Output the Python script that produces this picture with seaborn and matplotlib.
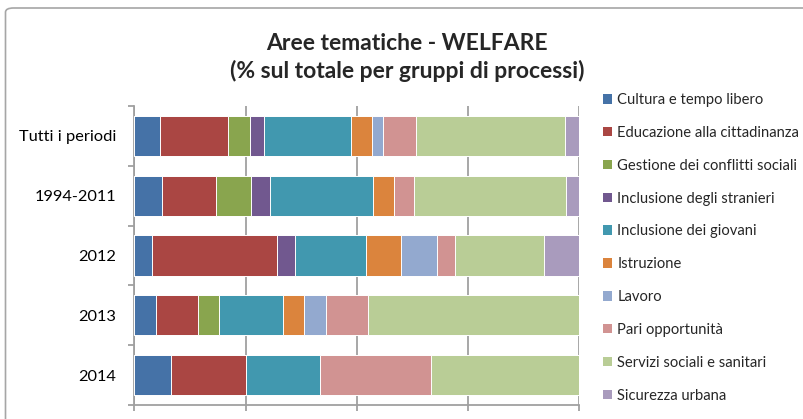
import matplotlib
matplotlib.use("Agg")
import matplotlib.pyplot as plt
import seaborn as sns
import pandas as pd
import numpy as np
from matplotlib.patches import Patch, FancyBboxPatch

# ---- data ----
periods = ["Tutti i periodi", "1994-2011", "2012", "2013", "2014"]
series_names = ["Cultura e tempo libero", "Educazione alla cittadinanza",
                "Gestione dei conflitti sociali", "Inclusione degli stranieri",
                "Inclusione dei giovani", "Istruzione", "Lavoro",
                "Pari opportunità", "Servizi sociali e sanitari", "Sicurezza urbana"]
cultura = [5.7, 6.2, 4.0, 4.8, 8.3]
educazione = [15.3, 12.1, 28.0, 9.5, 16.7]
gestione = [4.9, 7.9, 0.0, 4.8, 0.0]
stranieri = [3.2, 4.3, 4.0, 0.0, 0.0]
giovani = [19.5, 23.2, 16.0, 14.3, 16.7]
istruzione = [4.8, 4.6, 8.0, 4.8, 0.0]
lavoro = [2.5, 0.0, 8.0, 4.8, 0.0]
pari = [7.4, 4.5, 4.0, 9.5, 25.0]
servizi = [33.5, 34.1, 20.0, 47.6, 33.3]
sicurezza = [3.2, 3.1, 8.0, 0.0, 0.0]
series_values = [cultura, educazione, gestione, stranieri, giovani,
                 istruzione, lavoro, pari, servizi, sicurezza]
colors = ["#4572A7", "#AA4643", "#89A54E", "#71588F", "#4198AF",
          "#DB843D", "#93A9CF", "#D19392", "#B9CD96", "#A99BBD"]
title = "Aree tematiche - WELFARE\n(% sul totale per gruppi di processi)"

sns.set_theme(style="white")
plt.rcParams["font.family"] = ["Lato", "DejaVu Sans"]

fig = plt.figure(figsize=(8.04, 4.19), dpi=100)
ax = fig.add_axes([134.5 / 804, 1 - 405 / 419, (579.3 - 134.5) / 804, (405 - 106) / 419])

# border of the chart area
fig.patches.append(FancyBboxPatch((5.5 / 804, -0.2), 1.2, 1.2 - 8 / 419,
                                  boxstyle="round,pad=0,rounding_size=0.01",
                                  transform=fig.transFigure, fill=False,
                                  edgecolor="#A6A6A6", linewidth=1.2, zorder=0))

df = pd.DataFrame(np.array(series_values).T, columns=series_names)
df.insert(0, "periodo", periods)
cum = df[series_names].cumsum(axis=1)

for name, col in reversed(list(zip(series_names, colors))):
    sns.barplot(x=cum[name].values, y=df["periodo"], orient="h", color=col,
                saturation=1, width=0.67, edgecolor="white", linewidth=0.7,
                ax=ax, zorder=3)

ax.set_xlim(0, 100)
ax.set_ylim(4.5, -0.5)
ax.set_xticks([0, 25, 50, 75, 100])
ax.set_xticklabels([])
ax.grid(axis="x", color="#A0A0A0", linewidth=1.3)
ax.grid(axis="y", visible=False)
ax.set_axisbelow(True)
ax.set_xlabel("")
ax.set_ylabel("")
for s in ["top", "right"]:
    ax.spines[s].set_visible(False)
for s in ["left", "bottom"]:
    ax.spines[s].set_color("#A0A0A0")
    ax.spines[s].set_linewidth(1.3)
ax.tick_params(axis="x", which="major", length=4, color="#A0A0A0", width=1.3, bottom=True)
ax.set_yticks(range(len(periods)))
ax.set_yticklabels(periods, fontsize=11.8, color="black")
ax.set_yticks(np.arange(-0.5, len(periods), 1), minor=True)
ax.tick_params(axis="y", which="major", length=0, pad=13)
ax.tick_params(axis="y", which="minor", length=4, color="#A0A0A0", width=1.3, left=True)

fig.text(407 / 804, 1 - 57.5 / 419, title, ha="center", va="center",
         fontsize=16.5, fontweight="bold", linespacing=1.3)

handles = [Patch(facecolor=c, edgecolor="none") for c in colors]
fig.legend(handles, series_names, loc="upper left", bbox_to_anchor=(603 / 804, 1 - 93 / 419),
           frameon=False, fontsize=10.6, handlelength=0.62, handleheight=0.62,
           handletextpad=0.35, labelspacing=1.28, borderaxespad=0, borderpad=0)

fig.savefig("out.png", dpi=100)
